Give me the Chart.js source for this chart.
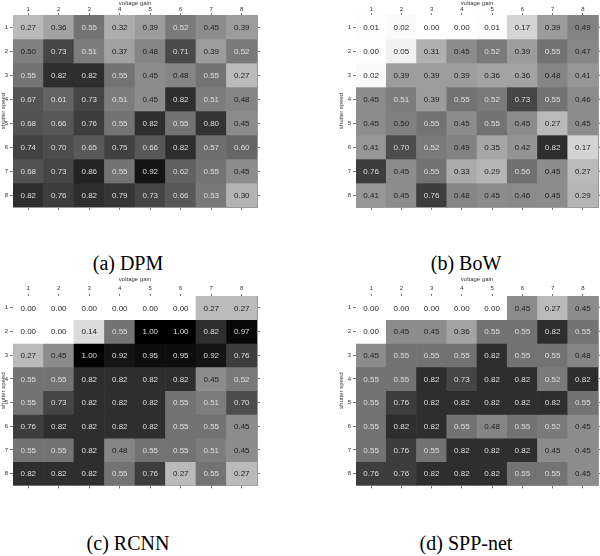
<!DOCTYPE html>
<html>
<head>
<meta charset="utf-8">
<script src="https://cdn.jsdelivr.net/npm/chart.js@4"></script>
<style>
  body { margin: 0; width: 600px; height: 556px; background: #fff; position: relative; overflow: hidden; }
  canvas { position: absolute; }
  .cap { position: absolute; width: 300px; text-align: center; font-family: "Liberation Serif", "Times New Roman", serif; font-size: 20px; line-height: 20px; color: #000; white-space: nowrap; }
</style>
</head>
<body>
<script>
const gains = ['1', '2', '3', '4', '5', '6', '7', '8'];
const speeds = [1, 2, 3, 4, 5, 6, 7, 8];

const dpm = [
    [0.27, 0.36, 0.55, 0.32, 0.39, 0.52, 0.45, 0.39],
    [0.50, 0.73, 0.51, 0.37, 0.48, 0.71, 0.39, 0.52],
    [0.55, 0.82, 0.82, 0.55, 0.45, 0.48, 0.55, 0.27],
    [0.67, 0.61, 0.73, 0.51, 0.45, 0.82, 0.51, 0.48],
    [0.68, 0.66, 0.76, 0.55, 0.82, 0.55, 0.80, 0.45],
    [0.74, 0.70, 0.65, 0.75, 0.66, 0.82, 0.57, 0.60],
    [0.68, 0.73, 0.86, 0.55, 0.92, 0.62, 0.55, 0.45],
    [0.82, 0.76, 0.82, 0.79, 0.73, 0.66, 0.53, 0.30]
];

const bow = [
    [0.01, 0.02, 0.00, 0.00, 0.01, 0.17, 0.39, 0.49],
    [0.00, 0.05, 0.31, 0.45, 0.52, 0.39, 0.55, 0.47],
    [0.02, 0.39, 0.39, 0.39, 0.36, 0.36, 0.48, 0.41],
    [0.45, 0.51, 0.39, 0.55, 0.52, 0.73, 0.55, 0.46],
    [0.45, 0.50, 0.55, 0.45, 0.55, 0.45, 0.27, 0.45],
    [0.41, 0.70, 0.52, 0.49, 0.35, 0.42, 0.82, 0.17],
    [0.76, 0.45, 0.55, 0.33, 0.29, 0.56, 0.45, 0.27],
    [0.41, 0.45, 0.76, 0.48, 0.45, 0.46, 0.45, 0.29]
];

const rcnn = [
    [0.00, 0.00, 0.00, 0.00, 0.00, 0.00, 0.27, 0.27],
    [0.00, 0.00, 0.14, 0.55, 1.00, 1.00, 0.82, 0.97],
    [0.27, 0.45, 1.00, 0.92, 0.95, 0.95, 0.92, 0.76],
    [0.55, 0.55, 0.82, 0.82, 0.82, 0.82, 0.45, 0.52],
    [0.55, 0.73, 0.82, 0.82, 0.82, 0.55, 0.51, 0.70],
    [0.76, 0.82, 0.82, 0.82, 0.82, 0.55, 0.55, 0.45],
    [0.55, 0.55, 0.82, 0.48, 0.55, 0.55, 0.51, 0.45],
    [0.82, 0.82, 0.82, 0.55, 0.76, 0.27, 0.55, 0.27]
];

const spp = [
    [0.00, 0.00, 0.00, 0.00, 0.00, 0.45, 0.27, 0.45],
    [0.00, 0.45, 0.45, 0.36, 0.55, 0.55, 0.82, 0.55],
    [0.45, 0.55, 0.55, 0.55, 0.82, 0.55, 0.55, 0.48],
    [0.55, 0.55, 0.82, 0.73, 0.82, 0.82, 0.52, 0.82],
    [0.55, 0.76, 0.82, 0.82, 0.82, 0.82, 0.82, 0.55],
    [0.55, 0.82, 0.82, 0.55, 0.48, 0.55, 0.52, 0.45],
    [0.55, 0.76, 0.55, 0.82, 0.82, 0.82, 0.45, 0.45],
    [0.76, 0.76, 0.82, 0.82, 0.82, 0.55, 0.55, 0.45]
];

// canvas box and plot rectangle for each panel, in page pixels
const panels = [
    { values: dpm,  caption: '(a) DPM',     box: [0, 0, 300, 215],     plot: [13, 15, 244, 192],  yw: 13, xh: 15, tpad: 0, capX: 128, capY: 253 },
    { values: bow,  caption: '(b) BoW',     box: [300, 0, 300, 215],   plot: [356, 15, 242, 192], yw: 18, xh: 15, tpad: 0, capX: 466, capY: 253 },
    { values: rcnn, caption: '(c) RCNN',    box: [0, 276, 300, 215],   plot: [13, 296, 244, 192], yw: 13, xh: 20, tpad: 2, capX: 128, capY: 533 },
    { values: spp,  caption: '(d) SPP-net', box: [300, 276, 300, 215], plot: [356, 296, 242, 192], yw: 18, xh: 20, tpad: 2, capX: 466, capY: 533 }
];

function gray(v) {
    const g = Math.round(255 * (1 - v));
    return `rgb(${g},${g},${g})`;
}

const cellText = {
    id: 'cellText',
    afterDatasetsDraw(chart) {
        const ctx = chart.ctx;
        ctx.save();
        ctx.font = '8px "Liberation Sans", Arial, sans-serif';
        ctx.textAlign = 'center';
        ctx.textBaseline = 'middle';
        chart.data.datasets.forEach((ds, i) => {
            chart.getDatasetMeta(i).data.forEach((bar, j) => {
                const v = ds.values[j];
                const p = bar.getCenterPoint();
                ctx.fillStyle = v > 0.5 ? '#dedede' : '#1e1e1e';
                ctx.fillText(v.toFixed(2), p.x, p.y + 0.5);
            });
        });
        ctx.restore();
    }
};

const tickFont = { family: '"Liberation Sans", Arial, sans-serif', size: 6 };

panels.forEach(p => {
    const [bx, by, bw, bh] = p.box;
    const [px, py, pw, ph] = p.plot;

    const canvas = document.createElement('canvas');
    canvas.width = bw;
    canvas.height = bh;
    canvas.style.left = bx + 'px';
    canvas.style.top = by + 'px';
    document.body.appendChild(canvas);

    const cap = document.createElement('div');
    cap.className = 'cap';
    cap.textContent = p.caption;
    cap.style.left = (p.capX - 150) + 'px';
    cap.style.top = p.capY + 'px';
    document.body.appendChild(cap);

    const datasets = speeds.map((s, i) => ({
        data: gains.map(() => [s - 0.5, s + 0.5]),
        values: p.values[i],
        backgroundColor: p.values[i].map(gray),
        borderWidth: 0
    }));

    const edge = 3;
    new Chart(canvas, {
        type: 'bar',
        data: { labels: gains, datasets },
        plugins: [cellText],
        options: {
            responsive: false,
            animation: false,
            layout: {
                padding: {
                    left: px - bx - p.yw,
                    top: py - by - p.xh,
                    right: (bx + bw) - (px + pw) - edge,
                    bottom: (by + bh) - (py + ph) - edge
                }
            },
            datasets: { bar: { grouped: false, barPercentage: 1, categoryPercentage: 1 } },
            plugins: { legend: { display: false }, tooltip: { enabled: false } },
            scales: {
                x: {
                    type: 'category', position: 'top', offset: true,
                    grid: { drawOnChartArea: false, offset: false, tickLength: 2, color: '#777' },
                    border: { color: '#999' },
                    ticks: { font: tickFont, color: '#333', padding: p.tpad, maxRotation: 0 },
                    title: { display: true, text: 'voltage gain', font: tickFont, color: '#333', padding: 0 },
                    afterFit: s => { s.height = p.xh; }
                },
                x2: {
                    type: 'category', labels: gains, position: 'bottom', offset: true,
                    grid: { drawOnChartArea: false, offset: false, tickLength: 3, color: '#777' },
                    border: { color: '#999' },
                    ticks: { display: false },
                    afterFit: s => { s.height = edge; }
                },
                y: {
                    type: 'linear', position: 'left', min: 0.5, max: 8.5, reverse: true,
                    afterBuildTicks: ax => { ax.ticks = speeds.map(v => ({ value: v })); },
                    grid: { drawOnChartArea: false, tickLength: 3, color: '#777' },
                    border: { color: '#999' },
                    ticks: { font: tickFont, color: '#333', padding: 2 },
                    title: { display: true, text: 'shutter speed', font: tickFont, color: '#333', padding: 0 },
                    afterFit: s => { s.width = p.yw; }
                },
                y2: {
                    type: 'linear', position: 'right', min: 0.5, max: 8.5, reverse: true,
                    afterBuildTicks: ax => { ax.ticks = speeds.map(v => ({ value: v })); },
                    grid: { drawOnChartArea: false, tickLength: 3, color: '#777' },
                    border: { color: '#999' },
                    ticks: { display: false },
                    afterFit: s => { s.width = edge; }
                }
            }
        }
    });
});
</script>
</body>
</html>
